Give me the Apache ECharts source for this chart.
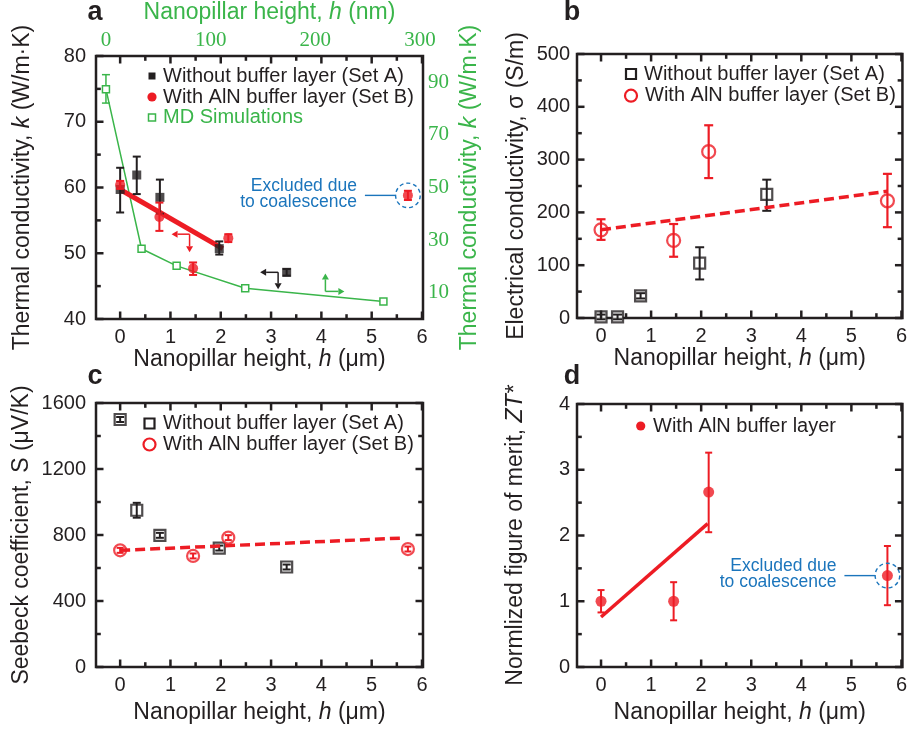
<!DOCTYPE html>
<html>
<head>
<meta charset="utf-8">
<script src="https://cdn.jsdelivr.net/npm/echarts@6/dist/echarts.min.js"></script>
<style>
  html, body { margin: 0; padding: 0; background: #fff; }
  #chart { width: 910px; height: 734px; }
</style>
</head>
<body>
<div id="chart"></div>
<script>
// ---------- data ----------
// nanopillar heights (µm)
const hSetA = [0, 0.33, 0.79, 1.97, 3.31];
const hSetB = [0, 0.78, 1.45, 2.15, 5.72];
const hSetB4 = [0, 1.45, 2.15, 5.72];

// (a) thermal conductivity k (W/m·K)
const kSetA = [59.7, 61.9, 58.5, 50.7, 47.1];
const kSetALow = [56.2, 59.0, 56.0, 49.8, 46.6];
const kSetAHigh = [63.0, 64.7, 61.2, 51.8, 47.6];
const kSetB = [60.4, 55.5, 47.7, 52.3, 58.8];
const kSetBLow = [59.8, 53.4, 46.7, 51.7, 58.1];
const kSetBHigh = [61.0, 57.7, 48.6, 52.9, 59.5];
const kFitH = [0, 2.04];
const kFit = [59.7, 50.7];
// MD simulations: height (nm) and k (W/m·K)
const mdH = [0, 34, 67.5, 133, 265];
const mdK = [87.4, 26.7, 20.2, 11.7, 6.7];
const mdErrH = [0];
const mdErrLow = [82.1];
const mdErrHigh = [92.9];
// guide arrows (corner points, µm / W/m·K)
const arrowAt = [[1.38, 52.9], [3.14, 47.1], [4.08, 44.2]];

// (b) electrical conductivity σ (S/m)
const sigmaSetA = [2, 2, 42, 104, 234];
const sigmaSetALow = [-2.5, -2.5, 37, 73, 203];
const sigmaSetAHigh = [6.5, 6.5, 47, 134, 262];
const sigmaSetB = [167, 147, 315, 222];
const sigmaSetBLow = [148, 116, 265, 172];
const sigmaSetBHigh = [187, 178, 365, 273];
const sigmaFitH = [0, 5.72];
const sigmaFit = [167, 240];

// (c) Seebeck coefficient S (µV/K)
const seebeckSetA = [1500, 950, 798, 721, 606];
const seebeckSetALow = [1485, 905, 783, 706, 591];
const seebeckSetAHigh = [1515, 995, 813, 736, 621];
const seebeckSetB = [707, 673, 784, 715];
const seebeckSetBLow = [692, 658, 769, 700];
const seebeckSetBHigh = [722, 688, 799, 730];
const seebeckFitH = [0, 5.65];
const seebeckFit = [707, 782];

// (d) normalized ZT*
const ztSetB = [1.00, 1.00, 2.66, 1.39];
const ztSetBLow = [0.83, 0.71, 2.05, 0.94];
const ztSetBHigh = [1.17, 1.29, 3.26, 1.84];
const ztFitH = [0, 2.13];
const ztFit = [0.76, 2.18];

// tick values
const hTicks = [0, 1, 2, 3, 4, 5, 6];
const hMinor = [0.5, 1.5, 2.5, 3.5, 4.5, 5.5];
const nmTicks = [0, 100, 200, 300];
const kTicks = [40, 50, 60, 70, 80];
const kMinor = [45, 55, 65, 75];
const mdKTicks = [10, 30, 50, 70, 90];
const sigmaTicks = [0, 100, 200, 300, 400, 500];
const sigmaMinor = [50, 150, 250, 350, 450];
const seebeckTicks = [0, 400, 800, 1200, 1600];
const seebeckMinor = [200, 600, 1000, 1400];
const ztTicks = [0, 1, 2, 3, 4];
const ztMinor = [0.5, 1.5, 2.5, 3.5];

// ---------- styles ----------
const FONT = "'Liberation Sans', Arial, Helvetica, sans-serif";
const SERIF = "'Liberation Serif', 'Times New Roman', serif";
const BLACK = '#231f20', RED = '#ed1c24', GREEN = '#3ab54a', BLUE = '#1b75bc';
const H_RANGE = [-0.48, 6.02];
const K_RANGE = [40, 80], SIGMA_RANGE = [0, 500], SEEBECK_RANGE = [0, 1600], ZT_RANGE = [0, 4];
const plain = v => String(v);

const xAxis = [], yAxis = [];

function axis(grid, range, position, labelValues, margin, name, font, color, size) {
  return {
    type: 'value', gridIndex: grid, min: range[0], max: range[1], position,
    axisLine: { show: false, onZero: false },
    axisTick: { show: false },
    splitLine: { show: false },
    axisLabel: {
      show: true, customValues: labelValues, margin, formatter: plain,
      fontSize: size || 20, color: color || BLACK, fontFamily: font || FONT
    },
    ...name
  };
}
function title(text, gap, color, size) {
  const c = color || BLACK, s = size || 23;
  return {
    name: text, nameLocation: 'middle', nameGap: gap,
    nameTextStyle: {
      fontSize: s, color: c, fontFamily: FONT,
      rich: { i: { fontSize: s, color: c, fontFamily: FONT, fontStyle: 'italic' } }
    }
  };
}
function add(list, ax) { list.push(ax); return list.length - 1; }

const hName = 'Nanopillar height, {i|h} (μm)';

// panel a
const xa = add(xAxis, axis(0, H_RANGE, 'bottom', hTicks, 8, title(hName, 27)));
const ya = add(yAxis, axis(0, K_RANGE, 'left', kTicks, 10, title('Thermal conductivity, {i|k} (W/m·K)', 62)));
const nmTitle = title('Nanopillar height, {i|h} (nm)', 32, GREEN, 23);
nmTitle.nameTextStyle.padding = [0, 0, 0, 20];
const xnm = add(xAxis, axis(0, [-9.5, 302.8], 'top', nmTicks, 5, nmTitle, SERIF, GREEN, 21));
const yg = add(yAxis, axis(0, [0, 100], 'right', mdKTicks, 5,
  title('Thermal conductivity, {i|k} (W/m·K)', 35, GREEN), SERIF, GREEN, 21));

// panel b
const xb = add(xAxis, axis(1, H_RANGE, 'bottom', hTicks, 8, title(hName, 27)));
const yb = add(yAxis, axis(1, SIGMA_RANGE, 'left', sigmaTicks, 7, title('Electrical conductivity, σ (S/m)', 49)));

// panel c
const xc = add(xAxis, axis(2, H_RANGE, 'bottom', hTicks, 8, title(hName, 34)));
const yc = add(yAxis, axis(2, SEEBECK_RANGE, 'left', seebeckTicks, 10, title('Seebeck coefficient, S (μV/K)', 63)));

// panel d
const xd = add(xAxis, axis(3, H_RANGE, 'bottom', hTicks, 8, title(hName, 34)));
const yd = add(yAxis, axis(3, ZT_RANGE, 'left', ztTicks, 7, title('Normlized figure of merit, {i|ZT*}', 50)));

// ---------- series helpers ----------
function pairs(xs, ys) { return xs.map((x, i) => [x, ys[i]]); }

const TICK_MAJOR = 7.5, TICK_MINOR = 4.8, TICK_WIDTH = 2.5;
// inward tick marks along the bottom (and mirrored top) frame edge
function xFrameTicks(xi, yi, yr, major, minor, mirror) {
  const data = [...major.map(v => [v, yr[0], TICK_MAJOR]), ...minor.map(v => [v, yr[0], TICK_MINOR])];
  return {
    type: 'custom', xAxisIndex: xi, yAxisIndex: yi, z: 10, silent: true,
    encode: { x: 0, y: 1 }, data,
    renderItem(params, api) {
      const v = api.value(0), len = api.value(2);
      const b = api.coord([v, yr[0]]), t = api.coord([v, yr[1]]);
      const st = { stroke: BLACK, lineWidth: TICK_WIDTH };
      const out = [{ type: 'line', shape: { x1: b[0], y1: b[1], x2: b[0], y2: b[1] - len }, style: st }];
      if (mirror) out.push({ type: 'line', shape: { x1: t[0], y1: t[1], x2: t[0], y2: t[1] + len }, style: st });
      return { type: 'group', children: out };
    }
  };
}
// inward tick marks along the left (and mirrored right) frame edge
function yFrameTicks(xi, yi, xr, major, minor, mirror) {
  const data = [...major.map(v => [xr[0], v, TICK_MAJOR]), ...minor.map(v => [xr[0], v, TICK_MINOR])];
  return {
    type: 'custom', xAxisIndex: xi, yAxisIndex: yi, z: 10, silent: true,
    encode: { x: 0, y: 1 }, data,
    renderItem(params, api) {
      const v = api.value(1), len = api.value(2);
      const l = api.coord([xr[0], v]), r = api.coord([xr[1], v]);
      const st = { stroke: BLACK, lineWidth: TICK_WIDTH };
      const out = [{ type: 'line', shape: { x1: l[0], y1: l[1], x2: l[0] + len, y2: l[1] }, style: st }];
      if (mirror) out.push({ type: 'line', shape: { x1: r[0], y1: r[1], x2: r[0] - len, y2: r[1] }, style: st });
      return { type: 'group', children: out };
    }
  };
}

function errorBars(xi, yi, xs, lo, hi, color, cap, lw, z) {
  return {
    type: 'custom', xAxisIndex: xi, yAxisIndex: yi, z, silent: true,
    encode: { x: 0, y: [1, 2] },
    data: xs.map((x, i) => [x, lo[i], hi[i]]),
    renderItem(params, api) {
      const x = api.value(0);
      const top = api.coord([x, api.value(2)]);
      const bot = api.coord([x, api.value(1)]);
      const st = { stroke: color, lineWidth: lw, fill: null };
      return {
        type: 'group', children: [
          { type: 'line', shape: { x1: top[0], y1: top[1], x2: bot[0], y2: bot[1] }, style: st },
          { type: 'line', shape: { x1: top[0] - cap / 2, y1: top[1], x2: top[0] + cap / 2, y2: top[1] }, style: st },
          { type: 'line', shape: { x1: bot[0] - cap / 2, y1: bot[1], x2: bot[0] + cap / 2, y2: bot[1] }, style: st }
        ]
      };
    }
  };
}

function points(xi, yi, xs, ys, symbol, size, itemStyle, z) {
  return {
    type: 'scatter', xAxisIndex: xi, yAxisIndex: yi, z, silent: true,
    symbol, symbolSize: size, itemStyle, data: pairs(xs, ys)
  };
}

function fitLine(xi, yi, xs, ys, width, dashed, z) {
  return {
    type: 'line', xAxisIndex: xi, yAxisIndex: yi, z, silent: true,
    symbol: 'none', data: pairs(xs, ys),
    lineStyle: { color: RED, width, type: dashed ? [10, 5] : 'solid', cap: 'butt' }
  };
}

function excludedNote(xi, yi, x, y, z) {
  return {
    type: 'custom', xAxisIndex: xi, yAxisIndex: yi, z, silent: true,
    encode: { x: 0, y: 1 }, data: [[x, y]],
    renderItem(params, api) {
      const p = api.coord([api.value(0), api.value(1)]);
      return {
        type: 'group', children: [
          { type: 'circle', shape: { cx: p[0], cy: p[1], r: 12.3 },
            style: { fill: null, stroke: BLUE, lineWidth: 1.4, lineDash: [4, 3] } },
          { type: 'line', shape: { x1: p[0] - 43, y1: p[1], x2: p[0] - 12.3, y2: p[1] },
            style: { stroke: BLUE, lineWidth: 1.4 } },
          { type: 'text', x: p[0] - 51, y: p[1] - 1.5,
            style: { text: 'Excluded due\nto coalescence', fill: BLUE, fontSize: 17.5, fontFamily: FONT,
                     align: 'right', verticalAlign: 'middle', lineHeight: 16 } }
        ]
      };
    }
  };
}

// elbow arrows pointing to the axis each data set belongs to
const arrowLegs = [
  { color: RED, legs: [[-18, 0], [0, 18]] },
  { color: BLACK, legs: [[-18, 0], [0, 17]] },
  { color: GREEN, legs: [[0, -18], [19, 0]] }
];
function arrows(xi, yi, z) {
  return {
    type: 'custom', xAxisIndex: xi, yAxisIndex: yi, z, silent: true,
    encode: { x: 0, y: 1 }, data: arrowAt,
    renderItem(params, api) {
      const p = api.coord([api.value(0), api.value(1)]);
      const spec = arrowLegs[params.dataIndex];
      const children = [];
      spec.legs.forEach(([dx, dy]) => {
        const len = Math.hypot(dx, dy), ux = dx / len, uy = dy / len;
        const ex = p[0] + dx, ey = p[1] + dy;
        const bx = ex - ux * 6, by = ey - uy * 6;
        children.push({ type: 'line', shape: { x1: p[0], y1: p[1], x2: bx, y2: by },
          style: { stroke: spec.color, lineWidth: 1.5 } });
        children.push({ type: 'polygon',
          shape: { points: [[ex, ey], [bx - uy * 3.5, by + ux * 3.5], [bx + uy * 3.5, by - ux * 3.5]] },
          style: { fill: spec.color } });
      });
      return { type: 'group', children };
    }
  };
}

const hollowSquare = { color: '#fff', borderColor: BLACK, borderWidth: 2.2 };
const hollowCircle = { color: '#fff', borderColor: RED, borderWidth: 2.2 };
const last = hSetB.length - 1;

const series = [
  // (a)
  xFrameTicks(xa, ya, K_RANGE, hTicks, hMinor, true),
  yFrameTicks(xa, ya, H_RANGE, kTicks, kMinor, false),
  { type: 'line', xAxisIndex: xnm, yAxisIndex: yg, z: 2, silent: true, data: pairs(mdH, mdK),
    symbol: 'rect', symbolSize: 7, lineStyle: { color: GREEN, width: 1.5 },
    itemStyle: { color: '#fff', borderColor: GREEN, borderWidth: 1.5 } },
  errorBars(xnm, yg, mdErrH, mdErrLow, mdErrHigh, GREEN, 8, 1.5, 1),
  fitLine(xa, ya, kFitH, kFit, 5, false, 3),
  arrows(xa, ya, 3),
  errorBars(xa, ya, hSetA, kSetALow, kSetAHigh, BLACK, 8, 2, 4),
  points(xa, ya, hSetA, kSetA, 'rect', 9, { color: BLACK }, 5),
  errorBars(xa, ya, hSetB, kSetBLow, kSetBHigh, RED, 8, 2, 6),
  points(xa, ya, hSetB, kSetB, 'circle', 10, { color: RED }, 7),
  excludedNote(xa, ya, hSetB[last], kSetB[last], 8),

  // (b)
  xFrameTicks(xb, yb, SIGMA_RANGE, hTicks, hMinor, true),
  yFrameTicks(xb, yb, H_RANGE, sigmaTicks, sigmaMinor, true),
  points(xb, yb, hSetA, sigmaSetA, 'rect', 11, hollowSquare, 3),
  errorBars(xb, yb, hSetA, sigmaSetALow, sigmaSetAHigh, BLACK, 9, 2, 4),
  points(xb, yb, hSetB4, sigmaSetB, 'circle', 13, hollowCircle, 5),
  errorBars(xb, yb, hSetB4, sigmaSetBLow, sigmaSetBHigh, RED, 9, 2.2, 6),
  fitLine(xb, yb, sigmaFitH, sigmaFit, 3.5, true, 7),

  // (c)
  xFrameTicks(xc, yc, SEEBECK_RANGE, hTicks, hMinor, true),
  yFrameTicks(xc, yc, H_RANGE, seebeckTicks, seebeckMinor, true),
  points(xc, yc, hSetA, seebeckSetA, 'rect', 11, hollowSquare, 3),
  errorBars(xc, yc, hSetA, seebeckSetALow, seebeckSetAHigh, BLACK, 8, 2, 4),
  points(xc, yc, hSetB4, seebeckSetB, 'circle', 12, hollowCircle, 5),
  errorBars(xc, yc, hSetB4, seebeckSetBLow, seebeckSetBHigh, RED, 7, 2, 6),
  fitLine(xc, yc, seebeckFitH, seebeckFit, 3.5, true, 7),

  // (d)
  xFrameTicks(xd, yd, ZT_RANGE, hTicks, hMinor, true),
  yFrameTicks(xd, yd, H_RANGE, ztTicks, ztMinor, true),
  fitLine(xd, yd, ztFitH, ztFit, 3.5, false, 2),
  errorBars(xd, yd, hSetB4, ztSetBLow, ztSetBHigh, RED, 7, 2, 3),
  points(xd, yd, hSetB4, ztSetB, 'circle', 11, { color: RED }, 4),
  excludedNote(xd, yd, hSetB4[3], ztSetB[3], 5)
];

// ---------- legends & panel letters ----------
function legendText(x, y, text, color) {
  return { type: 'text', x, y, silent: true,
    style: { text, fill: color || BLACK, fontSize: 20, fontFamily: FONT, verticalAlign: 'middle' } };
}
function panelLetter(x, y, t) {
  return { type: 'text', x, y, silent: true,
    style: { text: t, fill: BLACK, fontSize: 27, fontWeight: 'bold', fontFamily: FONT,
             align: 'center', verticalAlign: 'middle' } };
}
const graphic = [
  panelLetter(95, 13, 'a'), panelLetter(572, 13, 'b'),
  panelLetter(95, 377, 'c'), panelLetter(572, 377, 'd'),
  // (a)
  { type: 'rect', silent: true, shape: { x: 148.5, y: 72.5, width: 7, height: 7 }, style: { fill: BLACK } },
  legendText(163, 76, 'Without buffer layer (Set A)'),
  { type: 'circle', silent: true, shape: { cx: 152, cy: 97, r: 4.6 }, style: { fill: RED } },
  legendText(163, 97, 'With AlN buffer layer (Set B)'),
  { type: 'rect', silent: true, shape: { x: 148.5, y: 114, width: 7, height: 7 },
    style: { fill: '#fff', stroke: GREEN, lineWidth: 1.5 } },
  legendText(163, 117.5, 'MD Simulations', GREEN),
  // (b)
  { type: 'rect', silent: true, shape: { x: 626, y: 69, width: 10, height: 10 },
    style: { fill: '#fff', stroke: BLACK, lineWidth: 2.2 } },
  legendText(644, 74, 'Without buffer layer (Set A)'),
  { type: 'circle', silent: true, shape: { cx: 631, cy: 95.7, r: 6 },
    style: { fill: '#fff', stroke: RED, lineWidth: 2.2 } },
  legendText(645, 95.7, 'With AlN buffer layer (Set B)'),
  // (c)
  { type: 'rect', silent: true, shape: { x: 144.5, y: 418.5, width: 10, height: 10 },
    style: { fill: '#fff', stroke: BLACK, lineWidth: 2.2 } },
  legendText(163, 423.5, 'Without buffer layer (Set A)'),
  { type: 'circle', silent: true, shape: { cx: 149.5, cy: 444.5, r: 6 },
    style: { fill: '#fff', stroke: RED, lineWidth: 2.2 } },
  legendText(163, 444.5, 'With AlN buffer layer (Set B)'),
  // (d)
  { type: 'circle', silent: true, shape: { cx: 640.7, cy: 426, r: 4.6 }, style: { fill: RED } },
  legendText(653, 426, 'With AlN buffer layer')
];

const gridBox = { show: true, borderColor: BLACK, borderWidth: 2.5, backgroundColor: 'transparent', containLabel: false };
const option = {
  animation: false,
  backgroundColor: '#fff',
  textStyle: { fontFamily: FONT },
  grid: [
    Object.assign({ left: 96, top: 55, width: 327, height: 264 }, gridBox),
    Object.assign({ left: 577, top: 54, width: 327, height: 264 }, gridBox),
    Object.assign({ left: 96, top: 403, width: 327, height: 264 }, gridBox),
    Object.assign({ left: 577, top: 404, width: 327, height: 263 }, gridBox)
  ],
  xAxis, yAxis, series, graphic
};

const chart = echarts.init(document.getElementById('chart'), null, { renderer: 'canvas' });
chart.setOption(option);
</script>
</body>
</html>
